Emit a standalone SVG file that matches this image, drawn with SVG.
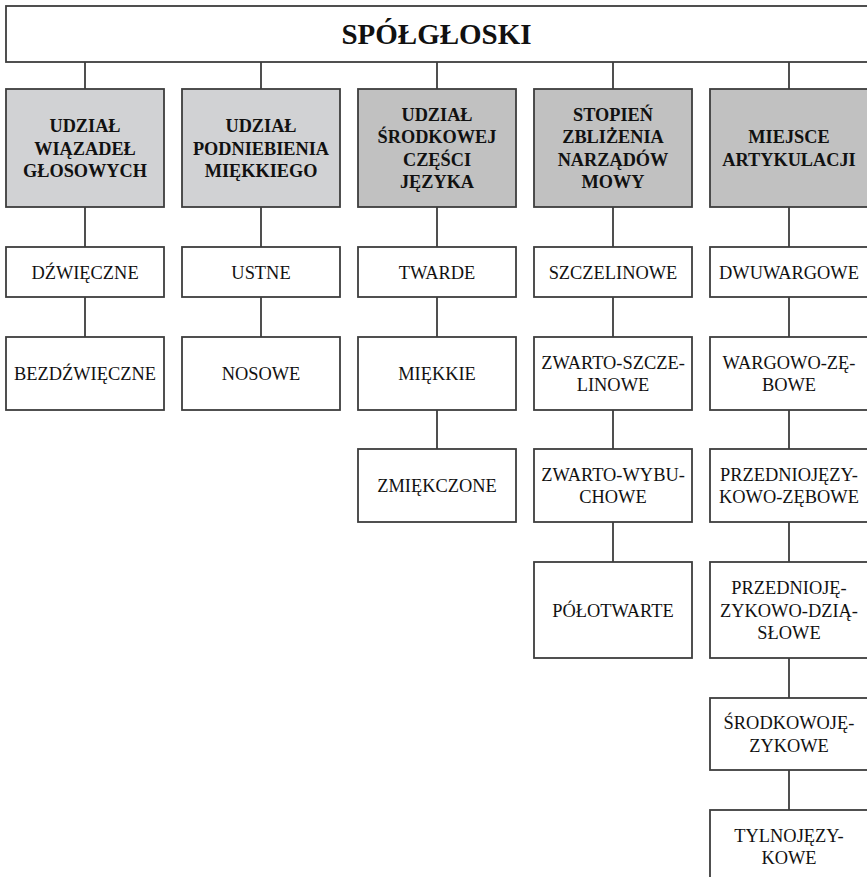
<svg xmlns="http://www.w3.org/2000/svg" width="867" height="877" viewBox="0 0 867 877">
<style>
.bx{fill:#ffffff;stroke:#3d3d3d;stroke-width:1.8}
.g1{fill:#d1d2d4;stroke:#3d3d3d;stroke-width:1.8}
.g2{fill:#c1c1c1;stroke:#3d3d3d;stroke-width:1.8}
.t{font-family:"Liberation Serif","Times New Roman",serif;font-size:18.4px;fill:#111;text-anchor:middle}
.h{font-family:"Liberation Serif","Times New Roman",serif;font-size:18.3px;font-weight:bold;fill:#111;text-anchor:middle}
.title{font-family:"Liberation Serif","Times New Roman",serif;font-size:29px;font-weight:bold;fill:#111;text-anchor:middle}
.c{fill:none;stroke:#3d3d3d;stroke-width:1.8}
</style>
<rect width="867" height="877" fill="#ffffff"/>
<g id="connectors">
<path class="c" d="M85 62V89M261 62V89M437 62V89M613 62V89M789 62V89
M85 207V247M261 207V247M437 207V247M613 207V247M789 207V247
M85 297V337M261 297V337M437 297V337M613 297V337M789 297V337
M437 410V449M613 410V449M789 410V449
M613 522V562M789 522V562
M789 658V698M789 770V810"/>
</g>
<g id="root">
<rect class="bx" x="6" y="6" width="866" height="56"/>
<text class="title" x="436.5" y="43.5">SPÓŁGŁOSKI</text>
</g>
<g id="h1">
<rect class="g1" x="6" y="89" width="158" height="118"/>
<text class="h" x="85" y="132.2">UDZIAŁ</text>
<text class="h" x="85" y="154.5">WIĄZADEŁ</text>
<text class="h" x="85" y="176.8">GŁOSOWYCH</text>
</g>
<g id="h2">
<rect class="g1" x="182" y="89" width="158" height="118"/>
<text class="h" x="261" y="132.2">UDZIAŁ</text>
<text class="h" x="261" y="154.5">PODNIEBIENIA</text>
<text class="h" x="261" y="176.8">MIĘKKIEGO</text>
</g>
<g id="h3">
<rect class="g2" x="358" y="89" width="158" height="118"/>
<text class="h" x="437" y="121.05">UDZIAŁ</text>
<text class="h" x="437" y="143.35">ŚRODKOWEJ</text>
<text class="h" x="437" y="165.65">CZĘŚCI</text>
<text class="h" x="437" y="187.95">JĘZYKA</text>
</g>
<g id="h4">
<rect class="g2" x="534" y="89" width="158" height="118"/>
<text class="h" x="613" y="121.05">STOPIEŃ</text>
<text class="h" x="613" y="143.35">ZBLIŻENIA</text>
<text class="h" x="613" y="165.65">NARZĄDÓW</text>
<text class="h" x="613" y="187.95">MOWY</text>
</g>
<g id="h5">
<rect class="g2" x="710" y="89" width="158" height="118"/>
<text class="h" x="789" y="143.35">MIEJSCE</text>
<text class="h" x="789" y="165.65">ARTYKULACJI</text>
</g>
<g id="dzwieczne">
<rect class="bx" x="6" y="247" width="158" height="50"/>
<text class="t" x="85" y="278.5">DŹWIĘCZNE</text>
</g>
<g id="bezdzwieczne">
<rect class="bx" x="6" y="337" width="158" height="73"/>
<text class="t" x="85" y="380">BEZDŹWIĘCZNE</text>
</g>
<g id="ustne">
<rect class="bx" x="182" y="247" width="158" height="50"/>
<text class="t" x="261" y="278.5">USTNE</text>
</g>
<g id="nosowe">
<rect class="bx" x="182" y="337" width="158" height="73"/>
<text class="t" x="261" y="380">NOSOWE</text>
</g>
<g id="twarde">
<rect class="bx" x="358" y="247" width="158" height="50"/>
<text class="t" x="437" y="278.5">TWARDE</text>
</g>
<g id="miekkie">
<rect class="bx" x="358" y="337" width="158" height="73"/>
<text class="t" x="437" y="380">MIĘKKIE</text>
</g>
<g id="zmiekczone">
<rect class="bx" x="358" y="449" width="158" height="73"/>
<text class="t" x="437" y="492">ZMIĘKCZONE</text>
</g>
<g id="szczelinowe">
<rect class="bx" x="534" y="247" width="158" height="50"/>
<text class="t" x="613" y="278.5">SZCZELINOWE</text>
</g>
<g id="zwarto-szczelinowe">
<rect class="bx" x="534" y="337" width="158" height="73"/>
<text class="t" x="613" y="368.85">ZWARTO-SZCZE-</text>
<text class="t" x="613" y="391.15">LINOWE</text>
</g>
<g id="zwarto-wybuchowe">
<rect class="bx" x="534" y="449" width="158" height="73"/>
<text class="t" x="613" y="480.85">ZWARTO-WYBU-</text>
<text class="t" x="613" y="503.15">CHOWE</text>
</g>
<g id="polotwarte">
<rect class="bx" x="534" y="562" width="158" height="96"/>
<text class="t" x="613" y="616.5">PÓŁOTWARTE</text>
</g>
<g id="dwuwargowe">
<rect class="bx" x="710" y="247" width="158" height="50"/>
<text class="t" x="789" y="278.5">DWUWARGOWE</text>
</g>
<g id="wargowo-zebowe">
<rect class="bx" x="710" y="337" width="158" height="73"/>
<text class="t" x="789" y="368.85">WARGOWO-ZĘ-</text>
<text class="t" x="789" y="391.15">BOWE</text>
</g>
<g id="przedniojezykowo-zebowe">
<rect class="bx" x="710" y="449" width="158" height="73"/>
<text class="t" x="789" y="480.85">PRZEDNIOJĘZY-</text>
<text class="t" x="789" y="503.15">KOWO-ZĘBOWE</text>
</g>
<g id="przedniojezykowo-dziaslowe">
<rect class="bx" x="710" y="562" width="158" height="96"/>
<text class="t" x="789" y="594.2">PRZEDNIOJĘ-</text>
<text class="t" x="789" y="616.5">ZYKOWO-DZIĄ-</text>
<text class="t" x="789" y="638.8">SŁOWE</text>
</g>
<g id="srodkowojezykowe">
<rect class="bx" x="710" y="698" width="158" height="72"/>
<text class="t" x="789" y="729.35">ŚRODKOWOJĘ-</text>
<text class="t" x="789" y="751.65">ZYKOWE</text>
</g>
<g id="tylnojezykowe">
<rect class="bx" x="710" y="810" width="158" height="73"/>
<text class="t" x="789" y="841.85">TYLNOJĘZY-</text>
<text class="t" x="789" y="864.15">KOWE</text>
</g>
</svg>
